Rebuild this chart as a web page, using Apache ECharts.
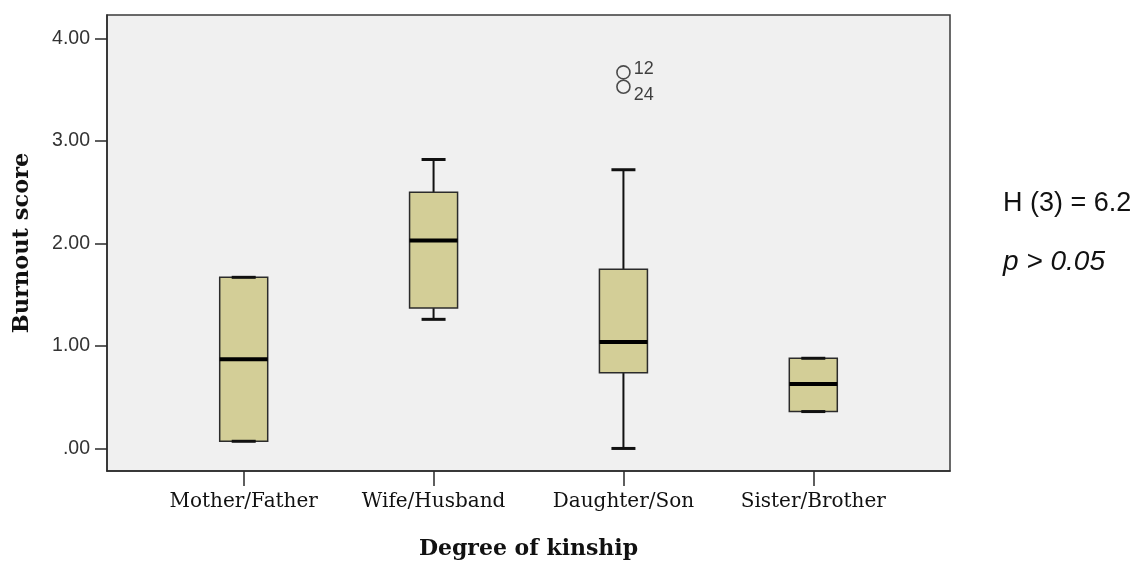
<!DOCTYPE html>
<html>
<head>
<meta charset="utf-8">
<style>
  html, body { margin: 0; padding: 0; background: #ffffff; }
  #chart { width: 1136px; height: 565px; }
</style>
<script src="https://cdn.jsdelivr.net/npm/echarts@6/dist/echarts.min.js"></script>
</head>
<body>
<div id="chart"></div>
<script>
// Burnout score by degree of kinship (five-number summaries per group)
const categories = ['Mother/Father', 'Wife/Husband', 'Daughter/Son', 'Sister/Brother'];
const lowWhisker = [0.07, 1.26, 0.00, 0.36];
const lowerQuartile = [0.07, 1.37, 0.74, 0.36];
const medianScore = [0.87, 2.03, 1.04, 0.63];
const upperQuartile = [1.67, 2.50, 1.75, 0.88];
const highWhisker = [1.67, 2.82, 2.72, 0.88];

// Outlying cases (group position on the x scale, score, case number)
const outlierGroup = [3, 3];
const outlierScore = [3.67, 3.53];
const outlierCase = ['12', '24'];

const yTickValues = [0, 1, 2, 3, 4];
const xTickValues = [1, 2, 3, 4];

const BOX_WIDTH = 48;
const CAP_WIDTH = 24;
const BOX_FILL = '#d3ce97';
const INK = '#111111';

const chart = echarts.init(document.getElementById('chart'), null, { renderer: 'canvas' });

const boxData = categories.map((c, i) => [
  i + 1, lowWhisker[i], lowerQuartile[i], medianScore[i], upperQuartile[i], highWhisker[i]
]);

const outlierData = outlierScore.map((v, i) => ({
  name: outlierCase[i],
  value: [outlierGroup[i], v],
  label: { offset: i === 0 ? [0, -3] : [0, 8] }
}));

function renderBox(params, api) {
  const x = api.value(0);
  const pMin = api.coord([x, api.value(1)]);
  const pQ1 = api.coord([x, api.value(2)]);
  const pMed = api.coord([x, api.value(3)]);
  const pQ3 = api.coord([x, api.value(4)]);
  const pMax = api.coord([x, api.value(5)]);
  const cx = pMed[0];
  const hb = BOX_WIDTH / 2;
  const hc = CAP_WIDTH / 2;
  const whisker = { stroke: INK, lineWidth: 2 };
  const cap = { stroke: INK, lineWidth: 3 };
  return {
    type: 'group',
    children: [
      { type: 'line', shape: { x1: cx, y1: pQ3[1], x2: cx, y2: pMax[1] }, style: whisker },
      { type: 'line', shape: { x1: cx, y1: pQ1[1], x2: cx, y2: pMin[1] }, style: whisker },
      {
        type: 'rect',
        shape: { x: cx - hb, y: pQ3[1], width: BOX_WIDTH, height: pQ1[1] - pQ3[1] },
        style: { fill: BOX_FILL, stroke: '#2b2b2b', lineWidth: 1.5 }
      },
      { type: 'line', shape: { x1: cx - hc, y1: pMax[1], x2: cx + hc, y2: pMax[1] }, style: cap },
      { type: 'line', shape: { x1: cx - hc, y1: pMin[1], x2: cx + hc, y2: pMin[1] }, style: cap },
      { type: 'line', shape: { x1: cx - hb, y1: pMed[1], x2: cx + hb, y2: pMed[1] }, style: { stroke: '#000', lineWidth: 4 } }
    ]
  };
}

const option = {
  animation: false,
  backgroundColor: '#ffffff',
  grid: {
    left: 107, top: 15, right: 186, bottom: 94,
    show: true,
    backgroundColor: '#f0f0f0',
    borderColor: '#3a3a3a',
    borderWidth: 1.5
  },
  xAxis: {
    type: 'value',
    min: 0.28,
    max: 4.72,
    name: 'Degree of kinship',
    nameLocation: 'middle',
    nameGap: 67,
    nameTextStyle: { fontFamily: 'DejaVu Serif', fontWeight: 'bold', fontSize: 22, color: '#111' },
    axisLine: { show: true, onZero: false, lineStyle: { color: '#2a2a2a', width: 1.5 } },
    axisTick: { show: true, length: 15, customValues: xTickValues, lineStyle: { color: '#2a2a2a', width: 1.5 } },
    axisLabel: {
      customValues: xTickValues,
      margin: 21,
      fontFamily: 'DejaVu Serif',
      fontSize: 20,
      color: '#111',
      formatter: v => categories[Math.round(v) - 1]
    },
    splitLine: { show: false }
  },
  yAxis: {
    type: 'value',
    min: -0.22,
    max: 4.23,
    name: 'Burnout score',
    nameLocation: 'middle',
    nameGap: 73,
    nameRotate: 90,
    nameTextStyle: { fontFamily: 'DejaVu Serif', fontWeight: 'bold', fontSize: 22.5, color: '#111' },
    axisLine: { show: true, onZero: false, lineStyle: { color: '#2a2a2a', width: 1.5 } },
    axisTick: { show: true, length: 12, customValues: yTickValues, lineStyle: { color: '#2a2a2a', width: 1.5 } },
    axisLabel: {
      customValues: yTickValues,
      margin: 17,
      fontFamily: 'Liberation Sans',
      fontSize: 19.5,
      color: '#333',
      formatter: v => (v === 0 ? '.00' : v.toFixed(2))
    },
    splitLine: { show: false }
  },
  series: [
    {
      type: 'custom',
      name: 'Burnout score',
      renderItem: renderBox,
      encode: { x: 0, y: [1, 2, 3, 4, 5] },
      data: boxData,
      z: 3
    },
    {
      type: 'scatter',
      name: 'Outliers',
      symbol: 'circle',
      symbolSize: 13,
      itemStyle: { color: 'rgba(0,0,0,0)', borderColor: '#222', borderWidth: 1.6 },
      label: {
        show: true,
        position: 'right',
        distance: 3,
        formatter: '{b}',
        fontFamily: 'Liberation Sans',
        fontSize: 18,
        color: '#111'
      },
      data: outlierData,
      z: 4
    }
  ],
  graphic: [
    {
      type: 'text',
      left: 1003,
      top: 190,
      style: { text: 'H (3) = 6.2', font: '27px "Liberation Sans"', fill: '#111' }
    },
    {
      type: 'text',
      left: 1003,
      top: 248,
      style: { text: 'p > 0.05', font: 'italic 28px "Liberation Sans"', fill: '#111' }
    }
  ]
};

chart.setOption(option);
</script>
</body>
</html>
